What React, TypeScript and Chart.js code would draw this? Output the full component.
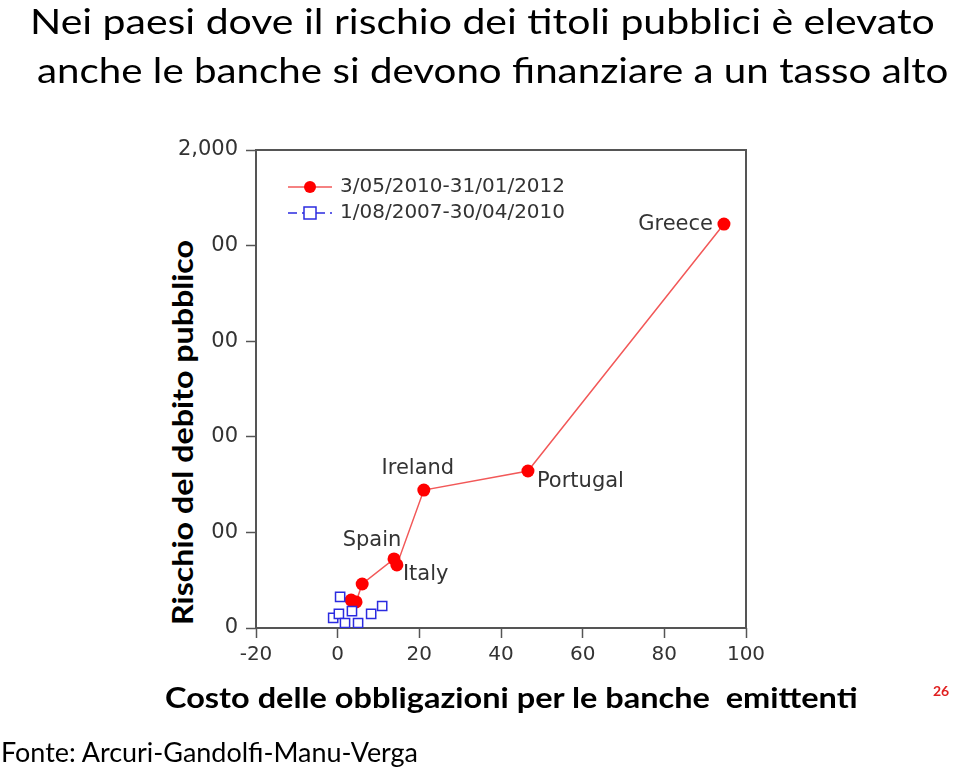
import React, { useEffect, useLayoutEffect, useRef, useState } from "react";
import { Chart, registerables } from "chart.js";

Chart.register(...registerables);

// ---- data ----
const RED_LABEL = "3/05/2010-31/01/2012";
const BLUE_LABEL = "1/08/2007-30/04/2010";

const redX = [3.3, 4.5, 6.0, 13.8, 14.5, 21.1, 46.6, 94.6];
const redY = [117, 109, 184, 289, 264, 577, 657, 1690];
const redNames = ["", "", "", "Spain", "Italy", "Ireland", "Portugal", "Greece"];

const blueX = [0.6, -1.1, 0.3, 3.5, 1.8, 5.0, 8.2, 10.9];
const blueY = [130, 42, 59, 71, 21, 21, 59, 92];

const xTicks = [-20, 0, 20, 40, 60, 80, 100];
const yTicks = [0, 400, 800, 1200, 1600, 2000];

const TITLE_1 = "Nei paesi dove il rischio dei titoli pubblici è elevato";
const TITLE_2 = "anche le banche si devono finanziare a un tasso alto";
const X_TITLE = "Costo delle obbligazioni per le banche  emittenti";
const Y_TITLE = "Rischio del debito pubblico";
const SOURCE = "Fonte: Arcuri-Gandolfi-Manu-Verga";
const PAGE_NO = "26";

// ---- styles ----
const RED = "#ff0000";
const RED_LINE = "#f25858";
const BLUE = "#2b2be0";
const AXIS = "#555555";
const TEXT = "#333333";
const TICK_FONT = "DejaVu Sans";

const LABEL_POS: Record<string, { dx: number; dy: number; align: CanvasTextAlign }> = {
  Greece: { dx: -11, dy: 0, align: "right" },
  Portugal: { dx: 9, dy: 11, align: "left" },
  Ireland: { dx: -6, dy: -22, align: "center" },
  Spain: { dx: -22, dy: -18, align: "center" },
  Italy: { dx: 6, dy: 10, align: "left" },
};

const framePlugin = {
  id: "frame",
  beforeDatasetsDraw(chart: any) {
    const { ctx, chartArea: a } = chart;
    ctx.save();
    ctx.strokeStyle = AXIS;
    ctx.lineWidth = 2;
    ctx.strokeRect(a.left, a.top, a.right - a.left, a.bottom - a.top);
    ctx.restore();
  },
};

const labelPlugin = {
  id: "pointLabels",
  afterDatasetsDraw(chart: any) {
    const { ctx } = chart;
    const meta = chart.getDatasetMeta(0);
    ctx.save();
    ctx.font = `21px "${TICK_FONT}"`;
    ctx.fillStyle = TEXT;
    ctx.textBaseline = "middle";
    meta.data.forEach((pt: any, i: number) => {
      const name = redNames[i];
      if (!name) return;
      const p = LABEL_POS[name];
      ctx.textAlign = p.align;
      ctx.fillText(name, pt.x + p.dx, pt.y + p.dy);
    });
    ctx.restore();
  },
};

const legendPlugin = {
  id: "customLegend",
  afterDraw(chart: any) {
    const { ctx, chartArea: a } = chart;
    const x0 = a.left + 32;
    const items = [
      { y: a.top + 37, label: chart.data.datasets[0].label, red: true },
      { y: a.top + 63, label: chart.data.datasets[1].label, red: false },
    ];
    ctx.save();
    items.forEach((it) => {
      ctx.lineWidth = 1.5;
      if (it.red) {
        ctx.strokeStyle = RED_LINE;
        ctx.setLineDash([]);
        ctx.beginPath();
        ctx.moveTo(x0, it.y);
        ctx.lineTo(x0 + 44, it.y);
        ctx.stroke();
        ctx.fillStyle = RED;
        ctx.beginPath();
        ctx.arc(x0 + 22, it.y, 6, 0, Math.PI * 2);
        ctx.fill();
      } else {
        ctx.strokeStyle = BLUE;
        ctx.setLineDash([9, 5]);
        ctx.beginPath();
        ctx.moveTo(x0, it.y);
        ctx.lineTo(x0 + 44, it.y);
        ctx.stroke();
        ctx.setLineDash([]);
        ctx.fillStyle = "#ffffff";
        ctx.fillRect(x0 + 16, it.y - 6, 12, 12);
        ctx.strokeRect(x0 + 16, it.y - 6, 12, 12);
      }
      ctx.fillStyle = TEXT;
      ctx.font = `20px "${TICK_FONT}"`;
      ctx.textAlign = "left";
      ctx.textBaseline = "middle";
      ctx.fillText(it.label, x0 + 52, it.y);
    });
    ctx.restore();
  },
};

function FitText(props: {
  text: string;
  left: number;
  top: number;
  width: number;
  size: number;
  weight?: number;
  color?: string;
  family?: string;
  rotate?: boolean;
}) {
  const ref = useRef<HTMLSpanElement>(null);
  const [scale, setScale] = useState(1);
  useLayoutEffect(() => {
    const measure = () => {
      if (ref.current) {
        const w = ref.current.offsetWidth;
        if (w > 0) setScale(props.width / w);
      }
    };
    measure();
    (document as any).fonts?.ready?.then(measure);
  }, [props.text, props.width, props.size]);
  const transform = props.rotate ? `rotate(-90deg) scaleX(${scale})` : `scaleX(${scale})`;
  return (
    <span
      ref={ref}
      style={{
        position: "absolute",
        left: props.left,
        top: props.top,
        whiteSpace: "pre",
        fontFamily: props.family || "Lato",
        fontSize: props.size,
        fontWeight: props.weight || 400,
        lineHeight: 1,
        color: props.color || "#000",
        transformOrigin: "0 0",
        transform,
      }}
    >
      {props.text}
    </span>
  );
}

function ScatterChart() {
  const canvasRef = useRef<HTMLCanvasElement>(null);
  useEffect(() => {
    if (!canvasRef.current) return;
    const chart = new Chart(canvasRef.current, {
      type: "line",
      data: {
        datasets: [
          {
            label: RED_LABEL,
            data: redX.map((x, i) => ({ x, y: redY[i] })),
            borderColor: RED_LINE,
            borderWidth: 1.5,
            backgroundColor: RED,
            pointBackgroundColor: RED,
            pointBorderColor: RED,
            pointRadius: 6.5,
            pointBorderWidth: 0,
            tension: 0,
            order: 1,
          },
          {
            label: BLUE_LABEL,
            data: blueX.map((x, i) => ({ x, y: blueY[i] })),
            showLine: false,
            borderColor: BLUE,
            backgroundColor: "#ffffff",
            pointStyle: "rect",
            pointRadius: 6.5,
            pointBorderWidth: 1.5,
            pointBackgroundColor: "#ffffff",
            pointBorderColor: BLUE,
            order: 0,
          },
        ],
      },
      options: {
        animation: false,
        responsive: false,
        devicePixelRatio: 1,
        layout: { padding: { top: 150, right: 214, left: 0, bottom: 0 } },
        plugins: { legend: { display: false }, tooltip: { enabled: false } },
        scales: {
          x: {
            type: "linear",
            min: xTicks[0],
            max: xTicks[xTicks.length - 1],
            afterBuildTicks: (s: any) => {
              s.ticks = xTicks.map((v) => ({ value: v }));
            },
            afterFit: (s: any) => {
              s.height = 139;
            },
            ticks: {
              font: { family: TICK_FONT, size: 20 },
              color: TEXT,
              padding: 5,
              maxRotation: 0,
            },
            grid: { drawOnChartArea: false, tickLength: 10, tickColor: AXIS, tickWidth: 1.5 },
            border: { display: false },
          },
          y: {
            type: "linear",
            min: yTicks[0],
            max: yTicks[yTicks.length - 1],
            afterBuildTicks: (s: any) => {
              s.ticks = yTicks.map((v) => ({ value: v }));
            },
            afterFit: (s: any) => {
              s.width = 256;
            },
            ticks: {
              font: { family: TICK_FONT, size: 21 },
              color: TEXT,
              padding: 8,
              callback: (v: any) => Number(v).toLocaleString("en-US"),
            },
            grid: { drawOnChartArea: false, tickLength: 10, tickColor: AXIS, tickWidth: 1.5 },
            border: { display: false },
          },
        },
      },
      plugins: [framePlugin, labelPlugin, legendPlugin],
    } as any);
    return () => chart.destroy();
  }, []);
  return (
    <canvas
      ref={canvasRef}
      width={960}
      height={767}
      style={{ position: "absolute", left: 0, top: 0, width: 960, height: 767 }}
    />
  );
}

export default function App() {
  return (
    <div
      style={{
        position: "absolute",
        left: 0,
        top: 0,
        width: 960,
        height: 767,
        overflow: "hidden",
        background: "#ffffff",
      }}
    >
      <ScatterChart />
      {/* white panel behind the rotated axis title, hiding the leading digits of the tick labels as in the source */}
      <div
        style={{
          position: "absolute",
          left: 160,
          top: 232,
          width: 52,
          height: 394,
          background: "#ffffff",
        }}
      />
      <FitText text={TITLE_1} left={30} top={3} width={905} size={35} />
      <FitText text={TITLE_2} left={37} top={52} width={911} size={35} />
      <FitText text={X_TITLE} left={165} top={683} width={693} size={28} weight={700} />
      <FitText text={Y_TITLE} left={168} top={625} width={385} size={28} weight={700} rotate />
      <FitText text={SOURCE} left={1} top={738} width={417} size={27} />
      <span
        style={{
          position: "absolute",
          left: 933,
          top: 684,
          fontFamily: "Lato",
          fontWeight: 700,
          fontSize: 14,
          color: "#e02020",
          lineHeight: 1,
        }}
      >
        {PAGE_NO}
      </span>
    </div>
  );
}
